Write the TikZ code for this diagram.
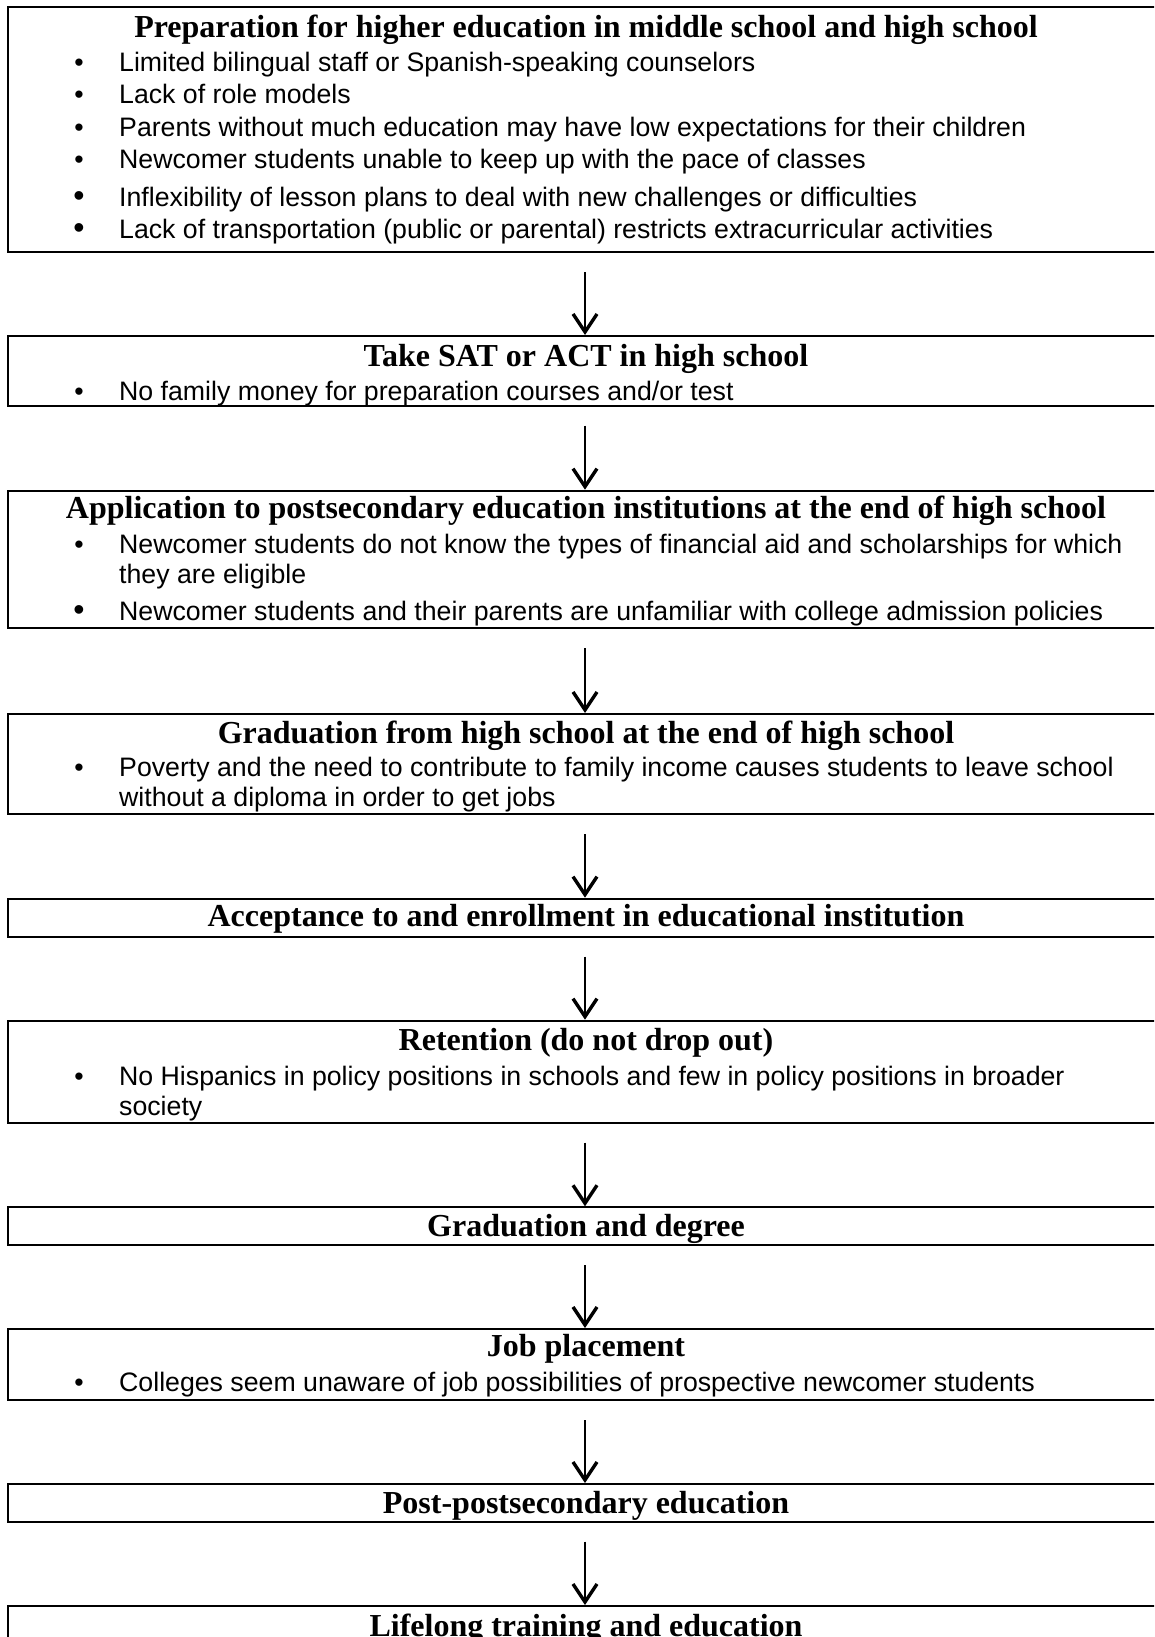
\documentclass[tikz,border=0pt]{standalone}
\usepackage{fontspec}
\setmainfont{Liberation Serif}
\newfontfamily\bulletfont{Liberation Sans}
\usetikzlibrary{arrows.meta}
\tikzset{
    stage/.style = {
        draw,
        line width=2pt,
        anchor=north west,
        minimum width=1170pt,
        inner sep=0pt,
        outer sep=0pt,
        },
    stagetitle/.style = {
        anchor=base,
        inner sep=0pt,
        font=\fontsize{32}{36}\selectfont\bfseries,
        },
    issue/.style = {
        anchor=base west,
        inner sep=0pt,
        font=\bulletfont\fontsize{26.7}{30}\selectfont,
        },
    bulletmark/.style = {
        anchor=base,
        inner sep=0pt,
        font=\bulletfont\fontsize{26.7}{30}\selectfont,
        },
    big bulletmark/.style = {
        bulletmark,
        font=\bulletfont\fontsize{32}{30}\selectfont,
        },
    flow/.style = {
        line width=2.7pt,
        -{Straight Barb[length=18pt,width=24pt,line width=3.4pt]},
        shorten <=20pt,
        shorten >=1pt,
        },
}

\begin{document}
\begin{tikzpicture}[x=1pt,y=-1pt]
    \useasboundingbox (0,0) rectangle (1154,1637);
    \clip (0,0) rectangle (1154,1637);
    \coordinate (axis) at (585,0);

    % the ten stages
    \node[stage, minimum height=244.5pt] (prep) at (8.4,7.5) {};
    \node[stage, minimum height=69.7pt] (sat) at (8.4,336) {};
    \node[stage, minimum height=137.6pt] (apply) at (8.4,490.7) {};
    \node[stage, minimum height=100.3pt] (grad) at (8.4,714) {};
    \node[stage, minimum height=38pt] (accept) at (8.4,898.7) {};
    \node[stage, minimum height=102pt] (retain) at (8.4,1020.7) {};
    \node[stage, minimum height=37.7pt] (degree) at (8.4,1207.3) {};
    \node[stage, minimum height=71pt] (job) at (8.4,1329) {};
    \node[stage, minimum height=37.7pt] (post) at (8.4,1484) {};
    \node[stage, minimum height=60pt] (life) at (8.4,1606) {};

    % titles
    \node[stagetitle] (prep title) at (586,37.7) {Preparation for higher education in middle school and high school};
    \node[stagetitle] (sat title) at (586,366) {Take SAT or ACT in high school};
    \node[stagetitle] (apply title) at (586,518.3) {Application to postsecondary education institutions at the end of high school};
    \node[stagetitle] (grad title) at (586,743.3) {Graduation from high school at the end of high school};
    \node[stagetitle] (accept title) at (586,926.7) {Acceptance to and enrollment in educational institution};
    \node[stagetitle] (retain title) at (586,1050) {Retention (do not drop out)};
    \node[stagetitle] (degree title) at (586,1236.7) {Graduation and degree};
    \node[stagetitle] (job title) at (586,1356.7) {Job placement};
    \node[stagetitle] (post title) at (586,1513.3) {Post-postsecondary education};
    \node[stagetitle] (life title) at (586,1636) {Lifelong training and education};

    % barriers
    \node[bulletmark] (prep b1) at (79,71.7) {•};
    \node[issue] (prep i1) at (119,71.7) {Limited bilingual staff or Spanish-speaking counselors};
    \node[bulletmark] (prep b2) at (79,103.3) {•};
    \node[issue] (prep i2) at (119,103.3) {Lack of role models};
    \node[bulletmark] (prep b3) at (79,136.7) {•};
    \node[issue] (prep i3) at (119,136.7) {Parents without much education may have low expectations for their children};
    \node[bulletmark] (prep b4) at (79,168.3) {•};
    \node[issue] (prep i4) at (119,168.3) {Newcomer students unable to keep up with the pace of classes};
    \node[big bulletmark] (prep b5) at (79,206.7) {•};
    \node[issue] (prep i5) at (119,206.7) {Inflexibility of lesson plans to deal with new challenges or difficulties};
    \node[big bulletmark] (prep b6) at (79,238.3) {•};
    \node[issue] (prep i6) at (119,238.3) {Lack of transportation (public or parental) restricts extracurricular activities};

    \node[bulletmark] (sat b1) at (79,400) {•};
    \node[issue] (sat i1) at (119,400) {No family money for preparation courses and/or test};

    \node[bulletmark] (apply b1) at (79,553.3) {•};
    \node[issue] (apply i1) at (119,553.3) {Newcomer students do not know the types of financial aid and scholarships for which};
    \node[issue] (apply i1 more) at (119,583.3) {they are eligible};
    \node[big bulletmark] (apply b2) at (79,620) {•};
    \node[issue] (apply i2) at (119,620) {Newcomer students and their parents are unfamiliar with college admission policies};

    \node[bulletmark] (grad b1) at (79,776.7) {•};
    \node[issue] (grad i1) at (119,776.7) {Poverty and the need to contribute to family income causes students to leave school};
    \node[issue] (grad i1 more) at (119,806.7) {without a diploma in order to get jobs};

    \node[bulletmark] (retain b1) at (79,1085) {•};
    \node[issue] (retain i1) at (119,1085) {No Hispanics in policy positions in schools and few in policy positions in broader};
    \node[issue] (retain i1 more) at (119,1115) {society};

    \node[bulletmark] (job b1) at (79,1391.7) {•};
    \node[issue] (job i1) at (119,1391.7) {Colleges seem unaware of job possibilities of prospective newcomer students};

    % arrows
    \draw[flow] (prep.south -| axis) -- (sat.north -| axis);
    \draw[flow] (sat.south -| axis) -- (apply.north -| axis);
    \draw[flow] (apply.south -| axis) -- (grad.north -| axis);
    \draw[flow] (grad.south -| axis) -- (accept.north -| axis);
    \draw[flow] (accept.south -| axis) -- (retain.north -| axis);
    \draw[flow] (retain.south -| axis) -- (degree.north -| axis);
    \draw[flow] (degree.south -| axis) -- (job.north -| axis);
    \draw[flow] (job.south -| axis) -- (post.north -| axis);
    \draw[flow] (post.south -| axis) -- (life.north -| axis);
\end{tikzpicture}
\end{document}
